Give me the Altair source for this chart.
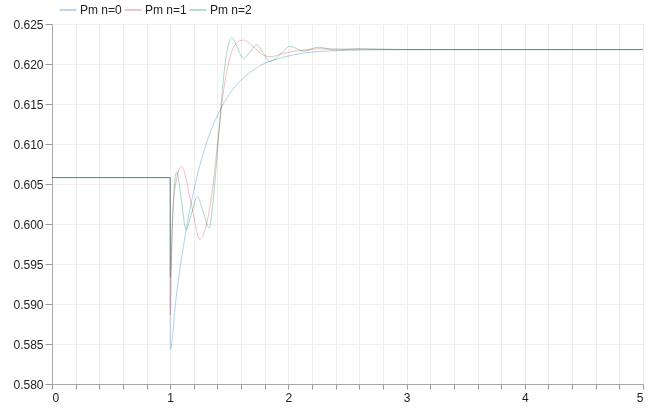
import altair as alt
import pandas as pd

# Series values
t_n0 = [0.0, 1.0, 1.0005, 1.05, 1.10, 1.15, 1.20, 1.25, 1.30, 1.35, 1.40, 1.50, 1.60, 1.70,
        1.80, 1.90, 2.00, 2.20, 2.50, 3.00, 5.00]
v_n0 = [0.6058, 0.6058, 0.5843, 0.5908, 0.5961, 0.6005, 0.6042, 0.6073, 0.6098, 0.6119, 0.6136,
        0.6162, 0.6180, 0.6192, 0.6201, 0.6206, 0.6210, 0.6215, 0.6217, 0.6218, 0.6218]

t_n1 = [0.0, 1.0, 1.0005, 1.015, 1.04, 1.097, 1.175, 1.252, 1.30, 1.35, 1.40, 1.45, 1.50,
        1.55, 1.618, 1.70, 1.78, 1.844, 1.95, 2.10, 2.30, 3.00, 5.00]
v_n1 = [0.6058, 0.6058, 0.5886, 0.5980, 0.6045, 0.6072, 0.6027, 0.5981, 0.5996, 0.6035, 0.6100,
        0.6165, 0.6205, 0.6224, 0.6230, 0.6222, 0.6212, 0.6209, 0.6213, 0.6217, 0.6219, 0.6218, 0.6218]

t_n2 = [0.0, 1.0, 1.0005, 1.02, 1.055, 1.095, 1.134, 1.18, 1.229, 1.28, 1.328, 1.379, 1.41,
        1.449, 1.48, 1.52, 1.57, 1.618, 1.675, 1.732, 1.79, 1.844, 1.93, 2.013, 2.13, 2.25,
        2.40, 2.60, 3.00, 5.00]
v_n2 = [0.6058, 0.6058, 0.5934, 0.6010, 0.6065, 0.6029, 0.5993, 0.6013, 0.6034, 0.6015, 0.5995,
        0.6055, 0.6110, 0.6180, 0.6215, 0.6233, 0.6220, 0.6207, 0.6215, 0.6224, 0.6213, 0.6203,
        0.6212, 0.6222, 0.6216, 0.6221, 0.62175, 0.6219, 0.6218, 0.6218]

series_names = ["Pm n=0", "Pm n=1", "Pm n=2"]
series_colors = ["#7aaee0", "#f08c8c", "#5cbc98"]

x_ticks = [round(0.2 * i, 1) for i in range(26)]
y_ticks = [round(0.580 + 0.005 * i, 3) for i in range(10)]

rows = []
for name, ts, vs in zip(series_names, [t_n0, t_n1, t_n2], [v_n0, v_n1, v_n2]):
    for i, (t, v) in enumerate(zip(ts, vs)):
        rows.append({"t": t, "v": v, "series": name, "order": i})
df = pd.DataFrame(rows)

FONT = "Liberation Sans"

chart = alt.Chart(df).mark_line(
    strokeWidth=1, interpolate="monotone", blend="multiply", opacity=0.58
).encode(
    x=alt.X("t:Q", scale=alt.Scale(domain=[0, 5], nice=False, zero=False),
            axis=alt.Axis(values=x_ticks, title=None,
                          labelExpr="round(datum.value*10) % 10 == 0 ? format(datum.value, 'd') : ''",
                          labelFontSize=12, labelColor="#222", labelFont=FONT,
                          labelPadding=3,
                          tickColor="#999", tickSize=5, domainColor="#aaa", gridColor="#eeeeee")),
    y=alt.Y("v:Q", scale=alt.Scale(domain=[0.580, 0.625], nice=False, zero=False),
            axis=alt.Axis(values=y_ticks, format=".3f", title=None,
                          labelFontSize=12, labelColor="#222", labelFont=FONT,
                          labelPadding=2,
                          tickColor="#999", tickSize=7, domainColor="#aaa", gridColor="#eeeeee")),
    color=alt.Color("series:N", scale=alt.Scale(domain=series_names, range=series_colors),
                    legend=alt.Legend(orient="none", direction="horizontal", legendX=7, legendY=-23,
                                      title=None, symbolType="stroke", symbolSize=289,
                                      symbolStrokeWidth=1, labelFontSize=12, labelFont=FONT,
                                      labelColor="#222", labelOffset=3, columnPadding=0,
                                      symbolOpacity=1)),
    order="order:Q",
).properties(
    width=591, height=360,
    autosize=alt.AutoSizeParams(type="none"),
    padding={"left": 52, "top": 24, "right": 14, "bottom": 26},
).configure_view(stroke=None).configure(background="white")

chart.save("out.html", embed_options={"renderer": "svg", "actions": False})
